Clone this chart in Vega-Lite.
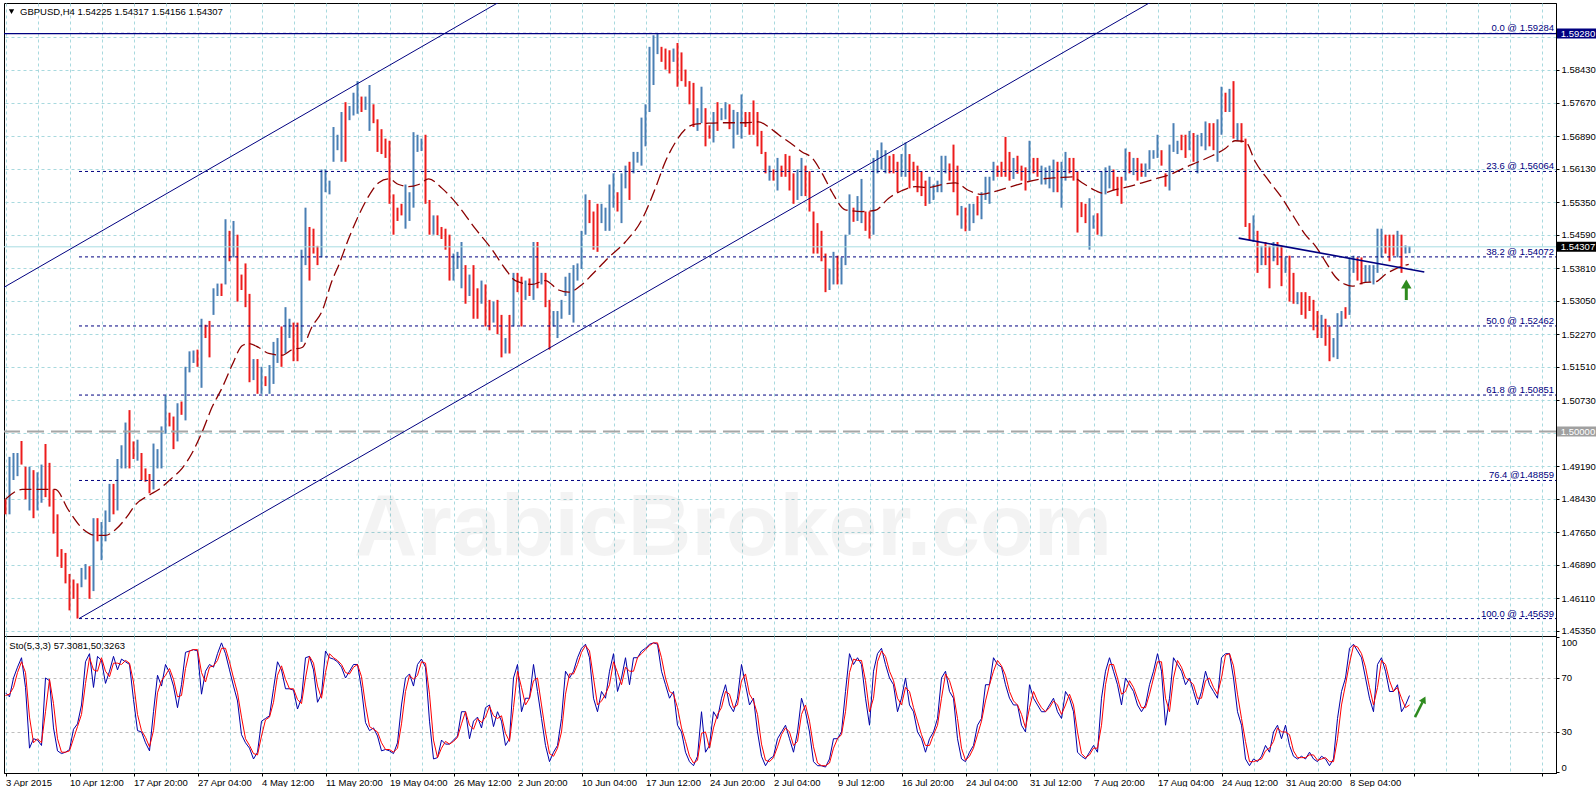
{
"$schema": "https://vega.github.io/schema/vega-lite/v6.json",
"background": "#ffffff",
"padding": {"left": 2, "top": 2, "right": 0, "bottom": 0},
"spacing": 0,
"bounds": "flush",
"config": {
  "view": {"stroke": "#000000", "strokeWidth": 1},
  "axis": {"labelFont": "Liberation Sans", "labelFontSize": 9.5, "labelColor": "#000000", "domainColor": "#000000", "tickColor": "#000000", "gridColor": "#A8D9DE", "gridDash": [3, 3], "gridWidth": 1},
  "text": {"font": "Liberation Sans"}
},
"datasets": {
  "bars": [
{"b":0,"h":1.4842,"l":1.4807,"u":0,"k":59,"d":57},
{"b":2,"h":1.4941,"l":1.4807,"u":1,"k":56,"d":58},
{"b":4,"h":1.495,"l":1.4887,"u":1,"k":70,"d":63},
{"b":6,"h":1.495,"l":1.4896,"u":1,"k":78,"d":74},
{"b":8,"h":1.4978,"l":1.4923,"u":0,"k":85,"d":82},
{"b":10,"h":1.4918,"l":1.4842,"u":0,"k":63,"d":74},
{"b":12,"h":1.4918,"l":1.4816,"u":1,"k":18,"d":41},
{"b":14,"h":1.491,"l":1.4798,"u":0,"k":25,"d":22},
{"b":16,"h":1.4905,"l":1.4816,"u":1,"k":24,"d":25},
{"b":18,"h":1.4923,"l":1.4834,"u":1,"k":20,"d":22},
{"b":20,"h":1.4971,"l":1.4847,"u":0,"k":70,"d":45},
{"b":22,"h":1.4927,"l":1.4825,"u":0,"k":68,"d":69},
{"b":24,"h":1.4865,"l":1.4762,"u":0,"k":33,"d":51},
{"b":26,"h":1.4807,"l":1.4708,"u":0,"k":16,"d":25},
{"b":28,"h":1.4726,"l":1.4682,"u":0,"k":14,"d":15},
{"b":30,"h":1.4717,"l":1.4646,"u":0,"k":15,"d":15},
{"b":32,"h":1.4668,"l":1.4583,"u":0,"k":17,"d":16},
{"b":34,"h":1.4655,"l":1.461,"u":0,"k":32,"d":25},
{"b":36,"h":1.4646,"l":1.4564,"u":0,"k":36,"d":34},
{"b":38,"h":1.4682,"l":1.4637,"u":1,"k":50,"d":43},
{"b":40,"h":1.4691,"l":1.4655,"u":1,"k":82,"d":66},
{"b":42,"h":1.4686,"l":1.461,"u":0,"k":88,"d":85},
{"b":44,"h":1.4798,"l":1.4628,"u":1,"k":63,"d":76},
{"b":46,"h":1.4798,"l":1.4744,"u":0,"k":86,"d":75},
{"b":48,"h":1.4789,"l":1.47,"u":1,"k":83,"d":85},
{"b":50,"h":1.4816,"l":1.4744,"u":1,"k":66,"d":75},
{"b":52,"h":1.4878,"l":1.4789,"u":1,"k":75,"d":71},
{"b":54,"h":1.4878,"l":1.4807,"u":0,"k":86,"d":81},
{"b":56,"h":1.4936,"l":1.4816,"u":1,"k":76,"d":81},
{"b":58,"h":1.4968,"l":1.4914,"u":1,"k":84,"d":80},
{"b":60,"h":1.5021,"l":1.4914,"u":1,"k":82,"d":83},
{"b":62,"h":1.505,"l":1.4914,"u":0,"k":80,"d":81},
{"b":64,"h":1.4977,"l":1.4936,"u":0,"k":54,"d":67},
{"b":66,"h":1.4981,"l":1.4932,"u":1,"k":31,"d":43},
{"b":68,"h":1.495,"l":1.4887,"u":0,"k":30,"d":31},
{"b":70,"h":1.4914,"l":1.4883,"u":0,"k":22,"d":26},
{"b":72,"h":1.4901,"l":1.4856,"u":0,"k":16,"d":19},
{"b":74,"h":1.4972,"l":1.4865,"u":1,"k":45,"d":31},
{"b":76,"h":1.4959,"l":1.4914,"u":1,"k":72,"d":59},
{"b":78,"h":1.5012,"l":1.4914,"u":1,"k":64,"d":68},
{"b":80,"h":1.5084,"l":1.4995,"u":1,"k":80,"d":72},
{"b":82,"h":1.5044,"l":1.5012,"u":0,"k":74,"d":77},
{"b":84,"h":1.5035,"l":1.4959,"u":0,"k":64,"d":69},
{"b":86,"h":1.5066,"l":1.4977,"u":1,"k":48,"d":56},
{"b":88,"h":1.507,"l":1.5039,"u":0,"k":65,"d":57},
{"b":90,"h":1.5151,"l":1.5026,"u":1,"k":89,"d":77},
{"b":92,"h":1.5187,"l":1.5138,"u":1,"k":90,"d":90},
{"b":94,"h":1.5189,"l":1.516,"u":1,"k":91,"d":91},
{"b":96,"h":1.5191,"l":1.5151,"u":0,"k":90,"d":91},
{"b":98,"h":1.5263,"l":1.5102,"u":1,"k":58,"d":74},
{"b":100,"h":1.5249,"l":1.5218,"u":0,"k":75,"d":67},
{"b":102,"h":1.5258,"l":1.5173,"u":0,"k":80,"d":78},
{"b":104,"h":1.5334,"l":1.5272,"u":1,"k":78,"d":79},
{"b":106,"h":1.5345,"l":1.5316,"u":1,"k":88,"d":83},
{"b":108,"h":1.5345,"l":1.5316,"u":0,"k":96,"d":92},
{"b":110,"h":1.5495,"l":1.5343,"u":1,"k":88,"d":92},
{"b":112,"h":1.5468,"l":1.5397,"u":0,"k":76,"d":82},
{"b":114,"h":1.5491,"l":1.5406,"u":1,"k":64,"d":70},
{"b":116,"h":1.5459,"l":1.5303,"u":0,"k":53,"d":59},
{"b":118,"h":1.5366,"l":1.533,"u":0,"k":28,"d":41},
{"b":120,"h":1.5392,"l":1.529,"u":0,"k":22,"d":25},
{"b":122,"h":1.5321,"l":1.5115,"u":0,"k":18,"d":20},
{"b":124,"h":1.5169,"l":1.512,"u":1,"k":10,"d":14},
{"b":126,"h":1.5169,"l":1.5088,"u":0,"k":15,"d":13},
{"b":128,"h":1.5151,"l":1.5088,"u":1,"k":38,"d":27},
{"b":130,"h":1.5129,"l":1.5106,"u":0,"k":40,"d":39},
{"b":132,"h":1.5155,"l":1.5088,"u":1,"k":42,"d":41},
{"b":134,"h":1.5209,"l":1.5111,"u":1,"k":62,"d":52},
{"b":136,"h":1.5218,"l":1.516,"u":1,"k":82,"d":72},
{"b":138,"h":1.5245,"l":1.5151,"u":0,"k":76,"d":79},
{"b":140,"h":1.529,"l":1.5182,"u":1,"k":62,"d":69},
{"b":142,"h":1.5263,"l":1.5218,"u":1,"k":62,"d":62},
{"b":144,"h":1.5254,"l":1.5164,"u":0,"k":61,"d":62},
{"b":146,"h":1.5254,"l":1.5164,"u":0,"k":47,"d":54},
{"b":148,"h":1.5424,"l":1.5209,"u":1,"k":55,"d":51},
{"b":150,"h":1.5522,"l":1.5388,"u":1,"k":85,"d":70},
{"b":152,"h":1.5477,"l":1.5352,"u":0,"k":86,"d":86},
{"b":154,"h":1.5473,"l":1.5415,"u":0,"k":76,"d":81},
{"b":156,"h":1.5433,"l":1.5388,"u":0,"k":52,"d":64},
{"b":158,"h":1.5611,"l":1.5406,"u":1,"k":58,"d":55},
{"b":160,"h":1.5611,"l":1.5558,"u":1,"k":90,"d":74},
{"b":162,"h":1.5585,"l":1.5553,"u":1,"k":85,"d":88},
{"b":164,"h":1.571,"l":1.5629,"u":1,"k":84,"d":85},
{"b":166,"h":1.5692,"l":1.5656,"u":1,"k":82,"d":83},
{"b":168,"h":1.5745,"l":1.5629,"u":1,"k":78,"d":80},
{"b":170,"h":1.5768,"l":1.5629,"u":0,"k":70,"d":74},
{"b":172,"h":1.5759,"l":1.5726,"u":1,"k":75,"d":73},
{"b":174,"h":1.579,"l":1.5737,"u":1,"k":80,"d":78},
{"b":176,"h":1.5817,"l":1.5741,"u":1,"k":80,"d":80},
{"b":178,"h":1.5781,"l":1.5745,"u":0,"k":62,"d":71},
{"b":180,"h":1.5781,"l":1.575,"u":1,"k":37,"d":50},
{"b":182,"h":1.5808,"l":1.5701,"u":1,"k":31,"d":34},
{"b":184,"h":1.5763,"l":1.5719,"u":0,"k":33,"d":32},
{"b":186,"h":1.5728,"l":1.5652,"u":0,"k":27,"d":30},
{"b":188,"h":1.5705,"l":1.5647,"u":0,"k":16,"d":22},
{"b":190,"h":1.5683,"l":1.5638,"u":0,"k":17,"d":17},
{"b":192,"h":1.5678,"l":1.5531,"u":0,"k":16,"d":17},
{"b":194,"h":1.5553,"l":1.5459,"u":0,"k":14,"d":15},
{"b":196,"h":1.5522,"l":1.5491,"u":0,"k":22,"d":18},
{"b":198,"h":1.5531,"l":1.5504,"u":0,"k":50,"d":36},
{"b":200,"h":1.5576,"l":1.5473,"u":1,"k":70,"d":60},
{"b":202,"h":1.5558,"l":1.5491,"u":1,"k":73,"d":72},
{"b":204,"h":1.5698,"l":1.5522,"u":1,"k":64,"d":69},
{"b":206,"h":1.5692,"l":1.5652,"u":1,"k":80,"d":72},
{"b":208,"h":1.5683,"l":1.5654,"u":1,"k":84,"d":82},
{"b":210,"h":1.5692,"l":1.5531,"u":0,"k":78,"d":81},
{"b":212,"h":1.554,"l":1.5459,"u":0,"k":38,"d":58},
{"b":214,"h":1.5504,"l":1.5459,"u":1,"k":10,"d":24},
{"b":216,"h":1.5504,"l":1.5458,"u":0,"k":11,"d":11},
{"b":218,"h":1.5477,"l":1.5449,"u":0,"k":24,"d":18},
{"b":220,"h":1.5473,"l":1.5424,"u":0,"k":21,"d":23},
{"b":222,"h":1.5459,"l":1.5352,"u":0,"k":21,"d":21},
{"b":224,"h":1.5415,"l":1.5352,"u":1,"k":24,"d":23},
{"b":226,"h":1.5419,"l":1.5379,"u":1,"k":27,"d":26},
{"b":228,"h":1.5442,"l":1.5334,"u":1,"k":45,"d":36},
{"b":230,"h":1.5388,"l":1.5298,"u":0,"k":45,"d":45},
{"b":232,"h":1.5366,"l":1.5316,"u":1,"k":25,"d":35},
{"b":234,"h":1.5388,"l":1.5263,"u":0,"k":38,"d":32},
{"b":236,"h":1.5334,"l":1.5263,"u":0,"k":41,"d":40},
{"b":238,"h":1.5352,"l":1.5298,"u":1,"k":33,"d":37},
{"b":240,"h":1.5343,"l":1.5245,"u":0,"k":48,"d":41},
{"b":242,"h":1.5307,"l":1.5236,"u":0,"k":50,"d":49},
{"b":244,"h":1.5303,"l":1.5254,"u":1,"k":34,"d":42},
{"b":246,"h":1.5307,"l":1.5227,"u":0,"k":45,"d":40},
{"b":248,"h":1.5272,"l":1.5173,"u":0,"k":38,"d":42},
{"b":250,"h":1.5218,"l":1.5182,"u":1,"k":20,"d":29},
{"b":252,"h":1.5272,"l":1.5182,"u":0,"k":25,"d":23},
{"b":254,"h":1.537,"l":1.5245,"u":1,"k":70,"d":48},
{"b":256,"h":1.537,"l":1.5325,"u":0,"k":80,"d":75},
{"b":258,"h":1.5361,"l":1.5245,"u":0,"k":45,"d":63},
{"b":260,"h":1.5352,"l":1.5307,"u":1,"k":55,"d":50},
{"b":262,"h":1.5357,"l":1.5316,"u":0,"k":55,"d":55},
{"b":264,"h":1.5442,"l":1.5307,"u":1,"k":80,"d":68},
{"b":266,"h":1.5442,"l":1.5334,"u":0,"k":60,"d":70},
{"b":268,"h":1.537,"l":1.5343,"u":1,"k":40,"d":50},
{"b":270,"h":1.537,"l":1.529,"u":0,"k":20,"d":30},
{"b":272,"h":1.5307,"l":1.5191,"u":0,"k":8,"d":14},
{"b":274,"h":1.5281,"l":1.5245,"u":1,"k":15,"d":12},
{"b":276,"h":1.5281,"l":1.5218,"u":1,"k":20,"d":18},
{"b":278,"h":1.5307,"l":1.5263,"u":1,"k":40,"d":30},
{"b":280,"h":1.5361,"l":1.5316,"u":1,"k":75,"d":58},
{"b":282,"h":1.537,"l":1.5272,"u":1,"k":70,"d":73},
{"b":284,"h":1.5388,"l":1.5254,"u":1,"k":75,"d":73},
{"b":286,"h":1.5392,"l":1.5352,"u":1,"k":85,"d":80},
{"b":288,"h":1.5468,"l":1.5379,"u":1,"k":92,"d":89},
{"b":290,"h":1.5553,"l":1.5459,"u":1,"k":95,"d":94},
{"b":292,"h":1.554,"l":1.5486,"u":0,"k":85,"d":90},
{"b":294,"h":1.5513,"l":1.5424,"u":0,"k":55,"d":70},
{"b":296,"h":1.5531,"l":1.5419,"u":0,"k":45,"d":50},
{"b":298,"h":1.5531,"l":1.5486,"u":1,"k":60,"d":53},
{"b":300,"h":1.5522,"l":1.5468,"u":1,"k":55,"d":58},
{"b":302,"h":1.5576,"l":1.5468,"u":1,"k":75,"d":65},
{"b":304,"h":1.5602,"l":1.5522,"u":1,"k":88,"d":82},
{"b":306,"h":1.5558,"l":1.5513,"u":0,"k":60,"d":74},
{"b":308,"h":1.5602,"l":1.5486,"u":1,"k":70,"d":65},
{"b":310,"h":1.562,"l":1.5567,"u":1,"k":85,"d":78},
{"b":312,"h":1.5629,"l":1.554,"u":0,"k":65,"d":75},
{"b":314,"h":1.5652,"l":1.5602,"u":1,"k":85,"d":75},
{"b":316,"h":1.5652,"l":1.5627,"u":1,"k":85,"d":85},
{"b":318,"h":1.5732,"l":1.562,"u":1,"k":90,"d":88},
{"b":320,"h":1.5763,"l":1.5665,"u":1,"k":92,"d":91},
{"b":322,"h":1.5897,"l":1.5745,"u":1,"k":95,"d":94},
{"b":324,"h":1.5924,"l":1.5808,"u":1,"k":96,"d":96},
{"b":326,"h":1.5928,"l":1.588,"u":1,"k":95,"d":96},
{"b":328,"h":1.5897,"l":1.5862,"u":0,"k":75,"d":85},
{"b":330,"h":1.5893,"l":1.5844,"u":0,"k":65,"d":70},
{"b":332,"h":1.5889,"l":1.5835,"u":0,"k":55,"d":60},
{"b":334,"h":1.5893,"l":1.5862,"u":1,"k":60,"d":58},
{"b":336,"h":1.5906,"l":1.5804,"u":0,"k":35,"d":48},
{"b":338,"h":1.5884,"l":1.5817,"u":0,"k":30,"d":33},
{"b":340,"h":1.5844,"l":1.5804,"u":0,"k":15,"d":23},
{"b":342,"h":1.5817,"l":1.5763,"u":0,"k":8,"d":12},
{"b":344,"h":1.5813,"l":1.571,"u":0,"k":5,"d":7},
{"b":346,"h":1.5754,"l":1.5701,"u":1,"k":12,"d":9},
{"b":348,"h":1.5804,"l":1.5719,"u":1,"k":45,"d":29},
{"b":350,"h":1.5754,"l":1.5665,"u":0,"k":15,"d":30},
{"b":352,"h":1.5714,"l":1.5683,"u":0,"k":20,"d":18},
{"b":354,"h":1.5745,"l":1.5674,"u":1,"k":45,"d":33},
{"b":356,"h":1.5768,"l":1.5701,"u":0,"k":40,"d":43},
{"b":358,"h":1.5754,"l":1.5726,"u":1,"k":55,"d":48},
{"b":360,"h":1.5768,"l":1.5728,"u":1,"k":65,"d":60},
{"b":362,"h":1.5763,"l":1.5705,"u":0,"k":50,"d":58},
{"b":364,"h":1.575,"l":1.566,"u":1,"k":45,"d":48},
{"b":366,"h":1.5745,"l":1.5692,"u":1,"k":55,"d":50},
{"b":368,"h":1.5786,"l":1.5683,"u":1,"k":80,"d":68},
{"b":370,"h":1.5745,"l":1.571,"u":0,"k":65,"d":73},
{"b":372,"h":1.5745,"l":1.5692,"u":0,"k":50,"d":58},
{"b":374,"h":1.5772,"l":1.5692,"u":0,"k":55,"d":53},
{"b":376,"h":1.5745,"l":1.5665,"u":0,"k":30,"d":43},
{"b":378,"h":1.5701,"l":1.5647,"u":0,"k":12,"d":21},
{"b":380,"h":1.5652,"l":1.5602,"u":0,"k":5,"d":9},
{"b":382,"h":1.562,"l":1.5585,"u":1,"k":10,"d":8},
{"b":384,"h":1.5611,"l":1.5585,"u":0,"k":12,"d":11},
{"b":386,"h":1.5638,"l":1.5562,"u":1,"k":25,"d":19},
{"b":388,"h":1.562,"l":1.5594,"u":0,"k":30,"d":28},
{"b":390,"h":1.5647,"l":1.5594,"u":0,"k":35,"d":33},
{"b":392,"h":1.5643,"l":1.5562,"u":0,"k":25,"d":30},
{"b":394,"h":1.5602,"l":1.5531,"u":0,"k":15,"d":20},
{"b":396,"h":1.5611,"l":1.554,"u":1,"k":30,"d":23},
{"b":398,"h":1.5638,"l":1.5549,"u":1,"k":55,"d":43},
{"b":400,"h":1.562,"l":1.5549,"u":0,"k":45,"d":50},
{"b":402,"h":1.5607,"l":1.5513,"u":0,"k":30,"d":38},
{"b":404,"h":1.5513,"l":1.5415,"u":0,"k":8,"d":19},
{"b":406,"h":1.5486,"l":1.5415,"u":0,"k":5,"d":7},
{"b":408,"h":1.5468,"l":1.5397,"u":0,"k":5,"d":5},
{"b":410,"h":1.5415,"l":1.5325,"u":0,"k":4,"d":5},
{"b":412,"h":1.5379,"l":1.533,"u":1,"k":10,"d":7},
{"b":414,"h":1.5419,"l":1.5343,"u":1,"k":25,"d":18},
{"b":416,"h":1.541,"l":1.5343,"u":0,"k":25,"d":25},
{"b":418,"h":1.5406,"l":1.5343,"u":1,"k":30,"d":28},
{"b":420,"h":1.5459,"l":1.5388,"u":1,"k":60,"d":45},
{"b":422,"h":1.5553,"l":1.5459,"u":1,"k":88,"d":74},
{"b":424,"h":1.5522,"l":1.5489,"u":0,"k":80,"d":84},
{"b":426,"h":1.5549,"l":1.5491,"u":1,"k":85,"d":83},
{"b":428,"h":1.5589,"l":1.5486,"u":1,"k":80,"d":83},
{"b":430,"h":1.5513,"l":1.5468,"u":0,"k":55,"d":68},
{"b":432,"h":1.5513,"l":1.545,"u":0,"k":35,"d":45},
{"b":434,"h":1.5638,"l":1.5459,"u":1,"k":75,"d":55},
{"b":436,"h":1.5656,"l":1.5602,"u":1,"k":88,"d":82},
{"b":438,"h":1.5674,"l":1.5611,"u":1,"k":92,"d":90},
{"b":440,"h":1.5656,"l":1.5602,"u":1,"k":80,"d":86},
{"b":442,"h":1.5643,"l":1.5602,"u":0,"k":70,"d":75},
{"b":444,"h":1.5647,"l":1.5602,"u":0,"k":65,"d":68},
{"b":446,"h":1.5629,"l":1.5558,"u":0,"k":45,"d":55},
{"b":448,"h":1.5647,"l":1.5594,"u":1,"k":55,"d":50},
{"b":450,"h":1.5674,"l":1.5594,"u":1,"k":70,"d":63},
{"b":452,"h":1.5647,"l":1.5567,"u":0,"k":50,"d":60},
{"b":454,"h":1.5629,"l":1.5585,"u":0,"k":45,"d":48},
{"b":456,"h":1.562,"l":1.5558,"u":0,"k":30,"d":38},
{"b":458,"h":1.5607,"l":1.5549,"u":0,"k":25,"d":28},
{"b":460,"h":1.5585,"l":1.5526,"u":0,"k":15,"d":20},
{"b":462,"h":1.5594,"l":1.5531,"u":1,"k":25,"d":20},
{"b":464,"h":1.5576,"l":1.554,"u":1,"k":30,"d":28},
{"b":466,"h":1.5585,"l":1.5558,"u":1,"k":40,"d":35},
{"b":468,"h":1.5643,"l":1.5558,"u":1,"k":70,"d":55},
{"b":470,"h":1.5643,"l":1.5602,"u":1,"k":75,"d":73},
{"b":472,"h":1.5625,"l":1.5585,"u":0,"k":60,"d":68},
{"b":474,"h":1.5669,"l":1.5558,"u":0,"k":55,"d":58},
{"b":476,"h":1.562,"l":1.5504,"u":0,"k":25,"d":40},
{"b":478,"h":1.5526,"l":1.5473,"u":1,"k":10,"d":18},
{"b":480,"h":1.5522,"l":1.5467,"u":0,"k":8,"d":9},
{"b":482,"h":1.5531,"l":1.5468,"u":1,"k":15,"d":12},
{"b":484,"h":1.5531,"l":1.5486,"u":1,"k":20,"d":18},
{"b":486,"h":1.5549,"l":1.5504,"u":0,"k":35,"d":28},
{"b":488,"h":1.5558,"l":1.5495,"u":1,"k":40,"d":38},
{"b":490,"h":1.5594,"l":1.554,"u":1,"k":65,"d":53},
{"b":492,"h":1.5594,"l":1.5531,"u":1,"k":65,"d":65},
{"b":494,"h":1.5629,"l":1.5585,"u":1,"k":85,"d":75},
{"b":496,"h":1.562,"l":1.5594,"u":0,"k":80,"d":83},
{"b":498,"h":1.5629,"l":1.5594,"u":0,"k":78,"d":79},
{"b":500,"h":1.5687,"l":1.5594,"u":0,"k":65,"d":72},
{"b":502,"h":1.5652,"l":1.5585,"u":0,"k":55,"d":60},
{"b":504,"h":1.5638,"l":1.5589,"u":1,"k":50,"d":53},
{"b":506,"h":1.5643,"l":1.5601,"u":0,"k":50,"d":50},
{"b":508,"h":1.562,"l":1.5585,"u":0,"k":35,"d":43},
{"b":510,"h":1.5616,"l":1.5562,"u":0,"k":30,"d":33},
{"b":512,"h":1.5678,"l":1.5585,"u":1,"k":65,"d":48},
{"b":514,"h":1.5638,"l":1.5602,"u":0,"k":55,"d":60},
{"b":516,"h":1.5638,"l":1.5594,"u":0,"k":50,"d":53},
{"b":518,"h":1.562,"l":1.5576,"u":1,"k":45,"d":48},
{"b":520,"h":1.5616,"l":1.5576,"u":1,"k":45,"d":45},
{"b":522,"h":1.562,"l":1.5567,"u":1,"k":50,"d":48},
{"b":524,"h":1.5634,"l":1.5558,"u":1,"k":55,"d":53},
{"b":526,"h":1.5629,"l":1.5558,"u":0,"k":45,"d":50},
{"b":528,"h":1.5629,"l":1.5522,"u":1,"k":40,"d":43},
{"b":530,"h":1.5652,"l":1.5585,"u":1,"k":60,"d":50},
{"b":532,"h":1.5638,"l":1.5602,"u":0,"k":55,"d":58},
{"b":534,"h":1.5638,"l":1.5585,"u":0,"k":45,"d":50},
{"b":536,"h":1.5607,"l":1.5464,"u":0,"k":15,"d":30},
{"b":538,"h":1.5535,"l":1.55,"u":0,"k":12,"d":14},
{"b":540,"h":1.5531,"l":1.5486,"u":0,"k":10,"d":11},
{"b":542,"h":1.5544,"l":1.5424,"u":1,"k":15,"d":13},
{"b":544,"h":1.5504,"l":1.5473,"u":1,"k":20,"d":18},
{"b":546,"h":1.5509,"l":1.5459,"u":0,"k":15,"d":18},
{"b":548,"h":1.5607,"l":1.5455,"u":1,"k":55,"d":35},
{"b":550,"h":1.5616,"l":1.5553,"u":1,"k":75,"d":65},
{"b":552,"h":1.562,"l":1.5567,"u":1,"k":85,"d":80},
{"b":554,"h":1.5611,"l":1.5562,"u":0,"k":75,"d":80},
{"b":556,"h":1.5594,"l":1.5549,"u":0,"k":65,"d":70},
{"b":558,"h":1.5594,"l":1.5531,"u":0,"k":50,"d":58},
{"b":560,"h":1.566,"l":1.5585,"u":1,"k":70,"d":60},
{"b":562,"h":1.5652,"l":1.5602,"u":0,"k":65,"d":68},
{"b":564,"h":1.5638,"l":1.5598,"u":1,"k":60,"d":63},
{"b":566,"h":1.5638,"l":1.5585,"u":0,"k":50,"d":55},
{"b":568,"h":1.5625,"l":1.5594,"u":0,"k":45,"d":48},
{"b":570,"h":1.5625,"l":1.5594,"u":1,"k":50,"d":48},
{"b":572,"h":1.5656,"l":1.5611,"u":1,"k":65,"d":58},
{"b":574,"h":1.5656,"l":1.5636,"u":1,"k":75,"d":70},
{"b":576,"h":1.5692,"l":1.5638,"u":1,"k":88,"d":82},
{"b":578,"h":1.5656,"l":1.562,"u":0,"k":75,"d":82},
{"b":580,"h":1.5602,"l":1.5571,"u":0,"k":35,"d":55},
{"b":582,"h":1.5669,"l":1.5562,"u":1,"k":55,"d":45},
{"b":584,"h":1.5719,"l":1.5652,"u":1,"k":85,"d":70},
{"b":586,"h":1.5678,"l":1.5647,"u":1,"k":80,"d":83},
{"b":588,"h":1.5692,"l":1.5656,"u":0,"k":75,"d":78},
{"b":590,"h":1.5692,"l":1.5638,"u":0,"k":65,"d":70},
{"b":592,"h":1.5701,"l":1.5656,"u":1,"k":70,"d":68},
{"b":594,"h":1.5696,"l":1.5629,"u":0,"k":60,"d":65},
{"b":596,"h":1.5692,"l":1.5602,"u":1,"k":50,"d":55},
{"b":598,"h":1.5696,"l":1.5665,"u":1,"k":60,"d":55},
{"b":600,"h":1.5723,"l":1.5656,"u":1,"k":75,"d":68},
{"b":602,"h":1.5719,"l":1.5665,"u":0,"k":65,"d":70},
{"b":604,"h":1.5719,"l":1.5656,"u":0,"k":60,"d":63},
{"b":606,"h":1.5728,"l":1.5629,"u":1,"k":55,"d":58},
{"b":608,"h":1.5804,"l":1.5692,"u":1,"k":85,"d":70},
{"b":610,"h":1.579,"l":1.5745,"u":0,"k":88,"d":87},
{"b":612,"h":1.5799,"l":1.5745,"u":1,"k":88,"d":88},
{"b":614,"h":1.5817,"l":1.5683,"u":0,"k":70,"d":79},
{"b":616,"h":1.5719,"l":1.5678,"u":1,"k":45,"d":58},
{"b":618,"h":1.5719,"l":1.5674,"u":0,"k":35,"d":40},
{"b":620,"h":1.5683,"l":1.5477,"u":0,"k":10,"d":23},
{"b":622,"h":1.5486,"l":1.5446,"u":0,"k":5,"d":8},
{"b":624,"h":1.5504,"l":1.5442,"u":1,"k":10,"d":8},
{"b":626,"h":1.5468,"l":1.537,"u":0,"k":8,"d":9},
{"b":628,"h":1.5433,"l":1.5388,"u":1,"k":12,"d":10},
{"b":630,"h":1.5442,"l":1.5388,"u":0,"k":20,"d":16},
{"b":632,"h":1.5433,"l":1.5334,"u":0,"k":15,"d":18},
{"b":634,"h":1.5442,"l":1.5397,"u":1,"k":30,"d":23},
{"b":636,"h":1.5442,"l":1.5388,"u":0,"k":35,"d":33},
{"b":638,"h":1.5433,"l":1.5339,"u":0,"k":25,"d":30},
{"b":640,"h":1.5406,"l":1.537,"u":1,"k":35,"d":30},
{"b":642,"h":1.541,"l":1.5303,"u":0,"k":20,"d":28},
{"b":644,"h":1.537,"l":1.5298,"u":0,"k":12,"d":16},
{"b":646,"h":1.5325,"l":1.5297,"u":1,"k":10,"d":11},
{"b":648,"h":1.5325,"l":1.5272,"u":0,"k":12,"d":11},
{"b":650,"h":1.5325,"l":1.5263,"u":0,"k":10,"d":11},
{"b":652,"h":1.5316,"l":1.5281,"u":0,"k":15,"d":13},
{"b":654,"h":1.5307,"l":1.5236,"u":0,"k":10,"d":13},
{"b":656,"h":1.5281,"l":1.5218,"u":0,"k":8,"d":9},
{"b":658,"h":1.5272,"l":1.5218,"u":1,"k":12,"d":10},
{"b":660,"h":1.5263,"l":1.52,"u":0,"k":10,"d":11},
{"b":662,"h":1.5245,"l":1.5164,"u":0,"k":5,"d":8},
{"b":664,"h":1.5218,"l":1.5173,"u":1,"k":10,"d":8},
{"b":666,"h":1.5276,"l":1.5169,"u":1,"k":40,"d":25},
{"b":668,"h":1.5281,"l":1.5245,"u":1,"k":60,"d":50},
{"b":670,"h":1.529,"l":1.5263,"u":0,"k":70,"d":65},
{"b":672,"h":1.5406,"l":1.5272,"u":1,"k":92,"d":81},
{"b":674,"h":1.541,"l":1.537,"u":1,"k":95,"d":94},
{"b":676,"h":1.5406,"l":1.5352,"u":0,"k":90,"d":93},
{"b":678,"h":1.5406,"l":1.5343,"u":0,"k":85,"d":88},
{"b":680,"h":1.5388,"l":1.5348,"u":1,"k":70,"d":78},
{"b":682,"h":1.5388,"l":1.5348,"u":1,"k":55,"d":63},
{"b":684,"h":1.5388,"l":1.5343,"u":1,"k":45,"d":50},
{"b":686,"h":1.5473,"l":1.537,"u":1,"k":80,"d":63},
{"b":688,"h":1.5473,"l":1.5406,"u":1,"k":85,"d":83},
{"b":690,"h":1.5459,"l":1.5415,"u":0,"k":75,"d":80},
{"b":692,"h":1.5459,"l":1.5397,"u":0,"k":60,"d":68},
{"b":694,"h":1.5459,"l":1.541,"u":0,"k":60,"d":60},
{"b":696,"h":1.5468,"l":1.5406,"u":1,"k":65,"d":63},
{"b":698,"h":1.5459,"l":1.537,"u":0,"k":45,"d":55},
{"b":700,"h":1.5434,"l":1.5415,"u":1,"k":50,"d":48},
{"b":702,"h":1.5432,"l":1.5416,"u":1,"k":57,"d":50}
  ],
  "ma": [
{"b":0,"p":1.4842},{"b":8.3,"p":1.4865},{"b":13.3,"p":1.4865},{"b":19.9,"p":1.4865},{"b":24.9,"p":1.4865},{"b":31.6,"p":1.4816},{"b":39.1,"p":1.4771},{"b":44.9,"p":1.4758},{"b":49.9,"p":1.4758},{"b":54.9,"p":1.4771},{"b":61.6,"p":1.4807},{"b":64.9,"p":1.4829},{"b":71.6,"p":1.4851},{"b":76.6,"p":1.4865},{"b":83.3,"p":1.4892},{"b":88.3,"p":1.4914},{"b":93.3,"p":1.495},{"b":98.3,"p":1.4999},{"b":103.3,"p":1.5057},{"b":108.3,"p":1.5102},{"b":113.3,"p":1.5155},{"b":118.3,"p":1.52},{"b":121.6,"p":1.5205},{"b":126.6,"p":1.5196},{"b":131.6,"p":1.5182},{"b":138.3,"p":1.5178},{"b":143.3,"p":1.5191},{"b":148.3,"p":1.5196},{"b":153.3,"p":1.5245},{"b":158.3,"p":1.5281},{"b":163.3,"p":1.5352},{"b":166.6,"p":1.5388},{"b":171.6,"p":1.545},{"b":176.6,"p":1.5504},{"b":181.6,"p":1.5549},{"b":186.6,"p":1.558},{"b":191.6,"p":1.5589},{"b":196.6,"p":1.5576},{"b":201.6,"p":1.5571},{"b":206.6,"p":1.5576},{"b":211.6,"p":1.5589},{"b":218.3,"p":1.5567},{"b":224.9,"p":1.5535},{"b":234.9,"p":1.5473},{"b":243.3,"p":1.5424},{"b":249.9,"p":1.5379},{"b":254.9,"p":1.5352},{"b":263.3,"p":1.5343},{"b":269.9,"p":1.5352},{"b":276.6,"p":1.533},{"b":281.6,"p":1.5325},{"b":288.3,"p":1.5343},{"b":293.3,"p":1.5366},{"b":301.6,"p":1.5406},{"b":309.9,"p":1.5442},{"b":318.3,"p":1.5495},{"b":324.9,"p":1.5567},{"b":329.9,"p":1.5629},{"b":334.9,"p":1.5674},{"b":339.9,"p":1.5705},{"b":344.9,"p":1.5717},{"b":351.6,"p":1.5719},{"b":359.9,"p":1.572},{"b":369.9,"p":1.572},{"b":376.6,"p":1.5722},{"b":381.6,"p":1.571},{"b":386.6,"p":1.5692},{"b":393.3,"p":1.567},{"b":398.3,"p":1.5652},{"b":403.3,"p":1.5638},{"b":408.3,"p":1.5602},{"b":413.3,"p":1.5558},{"b":419.9,"p":1.5517},{"b":428.3,"p":1.5513},{"b":434.9,"p":1.5516},{"b":441.6,"p":1.5544},{"b":448.3,"p":1.5562},{"b":454.9,"p":1.5571},{"b":461.6,"p":1.5569},{"b":468.3,"p":1.5576},{"b":474.9,"p":1.558},{"b":481.6,"p":1.5562},{"b":488.3,"p":1.5553},{"b":493.3,"p":1.5558},{"b":499.9,"p":1.5567},{"b":504.9,"p":1.5574},{"b":511.6,"p":1.5583},{"b":518.3,"p":1.5589},{"b":526.6,"p":1.5592},{"b":533.3,"p":1.5594},{"b":538.3,"p":1.558},{"b":544.9,"p":1.5562},{"b":548.3,"p":1.5556},{"b":554.9,"p":1.5564},{"b":561.6,"p":1.5571},{"b":568.3,"p":1.558},{"b":574.9,"p":1.5589},{"b":581.6,"p":1.5598},{"b":589.9,"p":1.5616},{"b":596.6,"p":1.5629},{"b":603.3,"p":1.5643},{"b":609.9,"p":1.566},{"b":614.9,"p":1.5678},{"b":619.9,"p":1.5676},{"b":624.9,"p":1.5629},{"b":631.6,"p":1.5585},{"b":638.3,"p":1.5544},{"b":644.9,"p":1.5495},{"b":649.9,"p":1.5459},{"b":654.9,"p":1.5433},{"b":659.9,"p":1.5397},{"b":664.9,"p":1.5361},{"b":669.9,"p":1.5343},{"b":673.3,"p":1.5339},{"b":679.9,"p":1.5348},{"b":684.9,"p":1.5349},{"b":689.9,"p":1.5366},{"b":696.6,"p":1.5383},{"b":701.6,"p":1.539}
  ],
  "channel": [
{"g":"up","b":-0.75,"p":1.53364},{"g":"up","b":300,"p":1.61442},
{"g":"low","b":36.75,"p":1.45639},{"g":"low","b":600,"p":1.60746}
  ],
  "trend": [{"b":616.6,"p":1.5451},{"b":709.4,"p":1.5372}],
  "fib": [
{"p":1.59284,"t":"0.0 @ 1.59284"},{"p":1.56064,"t":"23.6 @ 1.56064"},{"p":1.54072,"t":"38.2 @ 1.54072"},{"p":1.52462,"t":"50.0 @ 1.52462"},{"p":1.50851,"t":"61.8 @ 1.50851"},{"p":1.48859,"t":"76.4 @1.48859"},{"p":1.45639,"t":"100.0 @ 1.45639"}
  ],
  "tags": [
{"p":1.5928,"t":"1.59280","c":"line"},{"p":1.54307,"t":"1.54307","c":"bid"},{"p":1.5,"t":"1.50000","c":"level"}
  ]
},
"vconcat": [
{
  "width": 1552,
  "height": 633,
  "resolve": {"scale": {"color": "independent"}},
  "layer": [
    {
      "data": {"name": "bars"},
      "mark": {"type": "rule", "strokeWidth": 2, "strokeCap": "butt"},
      "encoding": {
        "x": {"field": "b", "type": "quantitative", "title": null, "scale": {"domain": [-0.75, 775.25], "nice": false, "zero": false},
              "axis": {"orient": "bottom", "values": [0,16,32,48,64,80,96,112,128,144,160,176,192,208,224,240,256,272,288,304,320,336,352,368,384,400,416,432,448,464,480,496,512,528,544,560,576,592,608,624,640,656,672,688,704,720,736,752,768], "tickCount": 1000, "labels": false, "ticks": false, "domain": false, "grid": true, "title": null}},
        "y": {"field": "h", "type": "quantitative", "title": null, "scale": {"domain": [1.45233, 1.59992], "nice": false, "zero": false},
              "axis": {"orient": "right", "values": [1.4535,1.4611,1.4689,1.4765,1.4843,1.4919,1.4997,1.5073,1.5151,1.5227,1.5305,1.5381,1.5459,1.5535,1.5613,1.5689,1.5767,1.5843,1.592], "tickCount": 1000, "format": ".5f", "labelExpr": "datum.value == 1.4997 || datum.value == 1.592 ? '' : datum.label", "grid": true, "tickSize": 3, "labelPadding": 2, "domain": true, "labelOverlap": false, "labelFlush": false, "title": null}},
        "y2": {"field": "l"},
        "color": {"field": "u", "type": "nominal", "scale": {"domain": [0, 1], "range": ["#EC1C1C", "#4A7FB4"]}, "legend": null}
      }
    },
    {
      "data": {"values": [{"t": "ArabicBroker.com"}]},
      "mark": {"type": "text", "font": "Liberation Sans", "fontWeight": "bold", "fontSize": 88, "color": "#000000", "opacity": 0.045, "align": "center", "baseline": "alphabetic"},
      "encoding": {
        "x": {"datum": 363.75, "type": "quantitative", "title": null, "scale": {"domain": [-0.75, 775.25], "nice": false, "zero": false}},
        "y": {"datum": 1.4711, "type": "quantitative", "title": null, "scale": {"domain": [1.45233, 1.59992], "nice": false, "zero": false}},
        "text": {"field": "t"}
      }
    },
    {
      "data": {"values": [{"p": 1.54307}]},
      "mark": {"type": "rule", "color": "#A8DCE2", "strokeWidth": 1},
      "encoding": {
        "y": {"field": "p", "type": "quantitative", "title": null, "scale": {"domain": [1.45233, 1.59992], "nice": false, "zero": false}}
      }
    },
    {
      "data": {"values": [{"p": 1.5}]},
      "mark": {"type": "rule", "color": "#A6A6A6", "strokeWidth": 2, "strokeDash": [17, 7]},
      "encoding": {
        "y": {"field": "p", "type": "quantitative", "title": null, "scale": {"domain": [1.45233, 1.59992], "nice": false, "zero": false}}
      }
    },
    {
      "data": {"name": "fib"},
      "mark": {"type": "rule", "color": "#000080", "strokeWidth": 1, "strokeDash": [3, 3]},
      "encoding": {
        "x": {"datum": 36.75, "type": "quantitative", "title": null, "scale": {"domain": [-0.75, 775.25], "nice": false, "zero": false}},
        "x2": {"datum": 775.25},
        "y": {"field": "p", "type": "quantitative", "title": null, "scale": {"domain": [1.45233, 1.59992], "nice": false, "zero": false}}
      }
    },
    {
      "data": {"values": [{"p": 1.5928}]},
      "mark": {"type": "rule", "color": "#000080", "strokeWidth": 1.3},
      "encoding": {
        "y": {"field": "p", "type": "quantitative", "title": null, "scale": {"domain": [1.45233, 1.59992], "nice": false, "zero": false}}
      }
    },
    {
      "data": {"name": "channel"},
      "mark": {"type": "line", "color": "#000080", "strokeWidth": 1, "clip": true},
      "encoding": {
        "x": {"field": "b", "type": "quantitative", "title": null, "scale": {"domain": [-0.75, 775.25], "nice": false, "zero": false}},
        "y": {"field": "p", "type": "quantitative", "title": null, "scale": {"domain": [1.45233, 1.59992], "nice": false, "zero": false}},
        "detail": {"field": "g"}
      }
    },
    {
      "data": {"name": "ma"},
      "mark": {"type": "line", "color": "#8B0000", "strokeWidth": 1.3, "strokeDash": [12, 5], "interpolate": "monotone"},
      "encoding": {
        "x": {"field": "b", "type": "quantitative", "title": null, "scale": {"domain": [-0.75, 775.25], "nice": false, "zero": false}},
        "y": {"field": "p", "type": "quantitative", "title": null, "scale": {"domain": [1.45233, 1.59992], "nice": false, "zero": false}}
      }
    },
    {
      "data": {"name": "trend"},
      "mark": {"type": "line", "color": "#000080", "strokeWidth": 1.6},
      "encoding": {
        "x": {"field": "b", "type": "quantitative", "title": null, "scale": {"domain": [-0.75, 775.25], "nice": false, "zero": false}},
        "y": {"field": "p", "type": "quantitative", "title": null, "scale": {"domain": [1.45233, 1.59992], "nice": false, "zero": false}}
      }
    },
    {
      "data": {"values": [{"p": 1.53369, "p2": 1.53066}]},
      "mark": {"type": "rule", "color": "#2E8B1E", "strokeWidth": 3},
      "encoding": {
        "x": {"datum": 700.4, "type": "quantitative", "title": null, "scale": {"domain": [-0.75, 775.25], "nice": false, "zero": false}},
        "y": {"field": "p", "type": "quantitative", "title": null, "scale": {"domain": [1.45233, 1.59992], "nice": false, "zero": false}},
        "y2": {"field": "p2"}
      }
    },
    {
      "data": {"values": [{"p": 1.53439}]},
      "mark": {"type": "point", "shape": "triangle-up", "filled": true, "color": "#2E8B1E", "size": 110, "opacity": 1},
      "encoding": {
        "x": {"datum": 700.4, "type": "quantitative", "title": null, "scale": {"domain": [-0.75, 775.25], "nice": false, "zero": false}},
        "y": {"field": "p", "type": "quantitative", "title": null, "scale": {"domain": [1.45233, 1.59992], "nice": false, "zero": false}}
      }
    },
    {
      "data": {"name": "fib"},
      "mark": {"type": "text", "color": "#000080", "fontSize": 9.5, "align": "right", "baseline": "alphabetic", "dy": -2},
      "encoding": {
        "x": {"datum": 774.25, "type": "quantitative", "title": null, "scale": {"domain": [-0.75, 775.25], "nice": false, "zero": false}},
        "y": {"field": "p", "type": "quantitative", "title": null, "scale": {"domain": [1.45233, 1.59992], "nice": false, "zero": false}},
        "text": {"field": "t"}
      }
    },
    {
      "data": {"values": [{"t": "GBPUSD,H4  1.54225 1.54317 1.54156 1.54307"}]},
      "mark": {"type": "text", "color": "#000000", "fontSize": 9.5, "align": "left", "baseline": "middle"},
      "encoding": {
        "x": {"datum": 7.25, "type": "quantitative", "title": null, "scale": {"domain": [-0.75, 775.25], "nice": false, "zero": false}},
        "y": {"datum": 1.5979, "type": "quantitative", "title": null, "scale": {"domain": [1.45233, 1.59992], "nice": false, "zero": false}},
        "text": {"field": "t"}
      }
    },
    {
      "data": {"values": [{"t": "menu"}]},
      "mark": {"type": "point", "shape": "triangle-down", "filled": true, "color": "#000000", "size": 28, "opacity": 1},
      "encoding": {
        "x": {"datum": 3, "type": "quantitative", "title": null, "scale": {"domain": [-0.75, 775.25], "nice": false, "zero": false}},
        "y": {"datum": 1.5979, "type": "quantitative", "title": null, "scale": {"domain": [1.45233, 1.59992], "nice": false, "zero": false}}
      }
    },
    {
      "data": {"name": "tags"},
      "mark": {"type": "point", "shape": "M-1,-0.24H1V0.24H-1Z", "filled": true, "size": 1764, "opacity": 1, "strokeWidth": 0},
      "encoding": {
        "x": {"datum": 786.25, "type": "quantitative", "title": null, "scale": {"domain": [-0.75, 775.25], "nice": false, "zero": false}},
        "y": {"field": "p", "type": "quantitative", "title": null, "scale": {"domain": [1.45233, 1.59992], "nice": false, "zero": false}},
        "color": {"field": "c", "type": "nominal", "scale": {"domain": ["line", "bid", "level"], "range": ["#000080", "#000000", "#A0A0A0"]}, "legend": null}
      }
    },
    {
      "data": {"name": "tags"},
      "mark": {"type": "text", "color": "#FFFFFF", "fontSize": 9.5, "align": "center", "baseline": "middle"},
      "encoding": {
        "x": {"datum": 786.25, "type": "quantitative", "title": null, "scale": {"domain": [-0.75, 775.25], "nice": false, "zero": false}},
        "y": {"field": "p", "type": "quantitative", "title": null, "scale": {"domain": [1.45233, 1.59992], "nice": false, "zero": false}},
        "text": {"field": "t"}
      }
    }
  ]
},
{
  "width": 1552,
  "height": 137,
  "layer": [
    {
      "data": {"name": "bars"},
      "mark": {"type": "line", "color": "#0000A8", "strokeWidth": 1},
      "encoding": {
        "x": {"field": "b", "type": "quantitative", "title": null, "scale": {"domain": [-0.75, 775.25], "nice": false, "zero": false},
              "axis": {"orient": "bottom", "values": [0,16,32,48,64,80,96,112,128,144,160,176,192,208,224,240,256,272,288,304,320,336,352,368,384,400,416,432,448,464,480,496,512,528,544,560,576,592,608,624,640,656,672,688,704,720,736,752,768], "tickCount": 1000, "grid": true, "domain": true, "tickSize": 3, "tickOpacity": {"condition": {"test": "datum.value % 32 != 0", "value": 0}, "value": 1}, "labelAlign": "left", "labelBaseline": "top", "labelPadding": 1, "labelOverlap": false, "labelFlush": false, "labelBound": false, "labelExpr": "datum.value % 32 == 0 ? (['3 Apr 2015','10 Apr 12:00','17 Apr 20:00','27 Apr 04:00','4 May 12:00','11 May 20:00','19 May 04:00','26 May 12:00','2 Jun 20:00','10 Jun 04:00','17 Jun 12:00','24 Jun 20:00','2 Jul 04:00','9 Jul 12:00','16 Jul 20:00','24 Jul 04:00','31 Jul 12:00','7 Aug 20:00','17 Aug 04:00','24 Aug 12:00','31 Aug 20:00','8 Sep 04:00'][datum.value / 32] || '') : ''", "title": null}},
        "y": {"field": "k", "type": "quantitative", "title": null, "scale": {"domain": [-0.4, 101.1], "nice": false, "zero": false},
              "axis": {"orient": "right", "values": [0, 30, 70, 100], "tickCount": 1000, "format": "d", "grid": true, "gridColor": "#BEBEBE", "gridOpacity": {"condition": {"test": "datum.value == 0 || datum.value == 100", "value": 0}, "value": 1}, "tickSize": 3, "labelPadding": 2, "labelFlush": false, "labelBaseline": {"condition": [{"test": "datum.value == 100", "value": "top"}, {"test": "datum.value == 0", "value": "bottom"}], "value": "middle"}, "labelOverlap": false, "title": null}}
      }
    },
    {
      "data": {"name": "bars"},
      "mark": {"type": "line", "color": "#FF0000", "strokeWidth": 1},
      "encoding": {
        "x": {"field": "b", "type": "quantitative", "title": null, "scale": {"domain": [-0.75, 775.25], "nice": false, "zero": false}},
        "y": {"field": "d", "type": "quantitative", "title": null, "scale": {"domain": [-0.4, 101.1], "nice": false, "zero": false}}
      }
    },
    {
      "data": {"values": [{"t": "Sto(5,3,3) 57.3081,50.3263"}]},
      "mark": {"type": "text", "color": "#000000", "fontSize": 9.5, "align": "left", "baseline": "middle"},
      "encoding": {
        "x": {"datum": 1.9, "type": "quantitative", "title": null, "scale": {"domain": [-0.75, 775.25], "nice": false, "zero": false}},
        "y": {"datum": 94, "type": "quantitative", "title": null, "scale": {"domain": [-0.4, 101.1], "nice": false, "zero": false}},
        "text": {"field": "t"}
      }
    },
    {
      "data": {"values": [{"s": 41, "s2": 52}]},
      "mark": {"type": "rule", "color": "#2E8B1E", "strokeWidth": 2.5},
      "encoding": {
        "x": {"datum": 704.75, "type": "quantitative", "title": null, "scale": {"domain": [-0.75, 775.25], "nice": false, "zero": false}},
        "x2": {"datum": 708.5},
        "y": {"field": "s", "type": "quantitative", "title": null, "scale": {"domain": [-0.4, 101.1], "nice": false, "zero": false}},
        "y2": {"field": "s2"}
      }
    },
    {
      "data": {"values": [{"s": 54}]},
      "mark": {"type": "point", "shape": "triangle-up", "filled": true, "color": "#2E8B1E", "size": 60, "angle": 27, "opacity": 1},
      "encoding": {
        "x": {"datum": 709.2, "type": "quantitative", "title": null, "scale": {"domain": [-0.75, 775.25], "nice": false, "zero": false}},
        "y": {"field": "s", "type": "quantitative", "title": null, "scale": {"domain": [-0.4, 101.1], "nice": false, "zero": false}}
      }
    }
  ]
}
]
}
